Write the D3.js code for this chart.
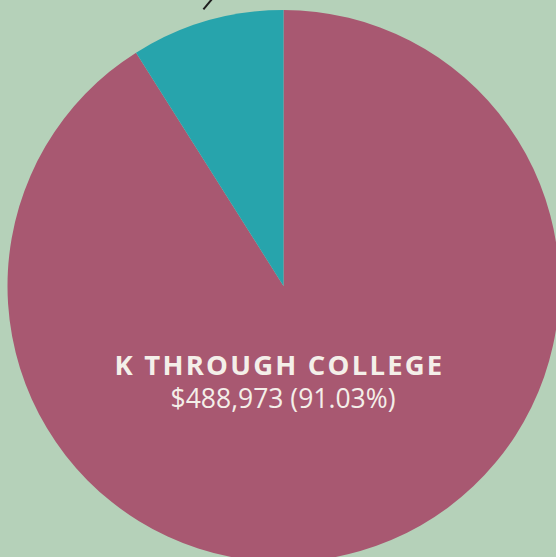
<!DOCTYPE html>
<html><head><meta charset="utf-8">
<script src="https://cdn.jsdelivr.net/npm/d3@7"></script>
<style>
html,body{margin:0;padding:0;background:#b5d1b9;}
svg{display:block;}
</style></head>
<body>
<svg id="chart" width="556" height="557"></svg>
<script>
const categories = ["K THROUGH COLLEGE", "OTHER"];
const values = [488973, 48183];
const percents = ["91.03%", "8.97%"];
const colors = ["#a85871", "#27a4ac"];

const W = 556, H = 557;
const cx = 283.5, cy = 286, R = 276;
const svg = d3.select("#chart");
svg.append("rect").attr("width", W).attr("height", H).attr("fill", "#b5d1b9");

const data = categories.map((c, i) => ({cat: c, value: values[i], pct: percents[i], color: colors[i]}));
const pie = d3.pie().sort(null).value(d => d.value);
const arc = d3.arc().innerRadius(0).outerRadius(R);
const arcs = pie(data);

const g = svg.append("g").attr("transform", `translate(${cx},${cy})`);
g.selectAll("path").data(arcs).join("path")
  .attr("d", arc).attr("fill", d => d.data.color);

// leader line for the small slice (label lies outside view)
const small = arcs[1];
const mid = (small.startAngle + small.endAngle) / 2;
const p1 = [ (R + 12) * Math.sin(mid), -(R + 12) * Math.cos(mid) ];
const p2 = [ p1[0] + 10, p1[1] - 12 ];
g.append("line").attr("x1", p1[0]).attr("y1", p1[1]).attr("x2", p2[0]).attr("y2", p2[1])
  .attr("stroke", "#1e1e1e").attr("stroke-width", 2);

// main label
const fmt = d3.format(",");
const lbl = g.append("g").attr("transform", "translate(-4,89)");
lbl.append("text").attr("text-anchor", "middle").attr("x", 0).attr("y", 0)
  .attr("font-family", "'Open Sans', sans-serif").attr("font-weight", 700)
  .attr("font-size", 27.5).attr("letter-spacing", 2.2).attr("fill", "#f4efe9")
  .text(categories[0]);
lbl.append("text").attr("text-anchor", "middle").attr("x", 3.5).attr("y", 33)
  .attr("font-family", "'Open Sans', sans-serif").attr("font-weight", 400)
  .attr("font-size", 26.5).attr("fill", "#f4efe9")
  .text(`$${fmt(values[0])} (${percents[0]})`);
</script>
</body></html>
